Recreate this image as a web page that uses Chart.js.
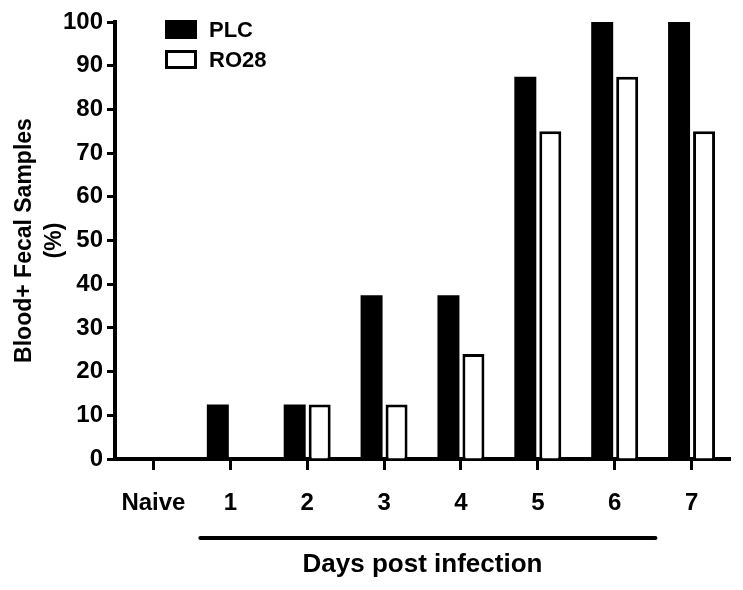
<!DOCTYPE html>
<html>
<head>
<meta charset="utf-8">
<script src="https://cdn.jsdelivr.net/npm/chart.js@4"></script>
<style>
  html, body { margin: 0; padding: 0; background: #fff; }
  #wrap { width: 743px; height: 590px; }
</style>
</head>
<body>
<div id="wrap"><canvas id="chart" width="743" height="590"></canvas></div>
<script>
// data
const categories = ["Naive", "1", "2", "3", "4", "5", "6", "7"];
const plcValues = [0, 12.5, 12.5, 37.5, 37.5, 87.5, 100, 100];
const ro28Values = [0, 0, 12.5, 12.5, 24, 75, 87.5, 75];
const seriesNames = ["PLC", "RO28"];
const yTicks = [0, 10, 20, 30, 40, 50, 60, 70, 80, 90, 100];

const FONT = "'Liberation Sans', Arial, sans-serif";

/* legend drawn in the top-left of the plot, like the original */
const insideLegend = {
    id: "insideLegend",
    afterDraw(chart) {
        const ctx = chart.ctx;
        ctx.save();
        chart.data.datasets.forEach((ds, i) => {
            const x = 165, y = 20 + i * 30, w = 32, h = 19;
            ctx.fillStyle = ds.backgroundColor;
            ctx.fillRect(x, y, w, h);
            if (ds.borderWidth) {
                ctx.strokeStyle = ds.borderColor;
                ctx.lineWidth = 3;
                ctx.strokeRect(x + 1.5, y + 1.5, w - 3, h - 3);
            }
            ctx.fillStyle = "#000";
            ctx.font = "bold 22px " + FONT;
            ctx.textBaseline = "middle";
            ctx.fillText(ds.label, 209, y + h / 2 + 1);
        });
        ctx.restore();
    }
};

/* bracket line over days 1-7 */
const daysBracket = {
    id: "daysBracket",
    afterDraw(chart) {
        const x = chart.scales.x;
        const ctx = chart.ctx;
        ctx.save();
        ctx.strokeStyle = "#000";
        ctx.lineWidth = 4;
        ctx.lineCap = "round";
        ctx.beginPath();
        ctx.moveTo(x.getPixelForValue(0.61), 538);
        ctx.lineTo(x.getPixelForValue(6.53), 538);
        ctx.stroke();
        ctx.restore();
    }
};

new Chart(document.querySelector("#chart"), {
    type: "bar",
    data: {
        labels: categories,
        datasets: [
            {
                label: seriesNames[0],
                data: plcValues,
                backgroundColor: "#000",
                borderColor: "#000",
                borderWidth: 0
            },
            {
                label: seriesNames[1],
                data: ro28Values,
                backgroundColor: "#fff",
                borderColor: "#000",
                borderWidth: 3,
                borderSkipped: "bottom"
            }
        ]
    },
    options: {
        responsive: false,
        animation: false,
        events: [],
        categoryPercentage: 0.65,
        barPercentage: 0.88,
        layout: { padding: { top: 22, right: 13, left: 0, bottom: 0 } },
        plugins: {
            legend: { display: false },
            tooltip: { enabled: false }
        },
        scales: {
            x: {
                grid: {
                    offset: false,
                    drawOnChartArea: false,
                    drawTicks: true,
                    tickLength: 11,
                    tickWidth: 3,
                    color: "#000"
                },
                border: { display: true, color: "#000", width: 4 },
                ticks: {
                    color: "#000",
                    font: { family: FONT, size: 24, weight: "bold" },
                    padding: 19,
                    maxRotation: 0
                },
                title: {
                    display: true,
                    text: "Days post infection",
                    color: "#000",
                    font: { family: FONT, size: 26, weight: "bold" },
                    padding: { top: 0, bottom: 10 }
                },
                afterFit(scale) { scale.height = 131; }
            },
            y: {
                min: 0,
                max: 100,
                afterBuildTicks(scale) {
                    scale.ticks = yTicks.map(v => ({ value: v }));
                },
                grid: {
                    drawOnChartArea: false,
                    drawTicks: true,
                    tickLength: 8,
                    tickWidth: 3,
                    color: "#000"
                },
                border: { display: true, color: "#000", width: 4 },
                ticks: {
                    color: "#000",
                    font: { family: FONT, size: 24, weight: "bold" },
                    padding: 4
                },
                title: {
                    display: true,
                    text: ["Blood+ Fecal Samples", "(%)"],
                    color: "#000",
                    font: { family: FONT, size: 23, weight: "bold", lineHeight: 1.3 },
                    padding: { top: 10, bottom: 0 }
                },
                afterFit(scale) { scale.width = 115; }
            }
        }
    },
    plugins: [insideLegend, daysBracket]
});
</script>
</body>
</html>
